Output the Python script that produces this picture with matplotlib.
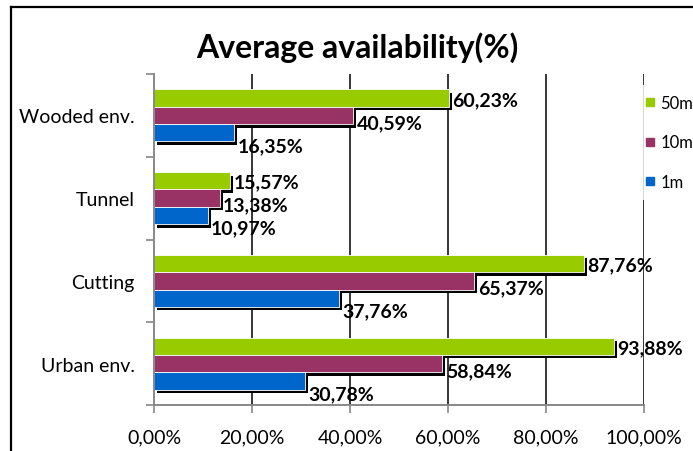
import matplotlib
matplotlib.use("Agg")
import matplotlib.pyplot as plt
import matplotlib.patheffects as pe
from matplotlib.lines import Line2D
import numpy as np

# ========================
# Data
# ========================
categories = ["Urban env.", "Cutting", "Tunnel", "Wooded env."]
series_names = ["50m", "10m", "1m"]
vals_50m = [93.88, 87.76, 15.57, 60.23]
vals_10m = [58.84, 65.37, 13.38, 40.59]
vals_1m = [30.78, 37.76, 10.97, 16.35]
x_ticks = [0, 20, 40, 60, 80, 100]

COLORS = {"50m": "#99CC00", "10m": "#993366", "1m": "#0066CC"}

plt.rcParams["font.family"] = ["Lato", "DejaVu Sans"]

W, H = 693, 452
fig = plt.figure(figsize=(W / 100, H / 100), dpi=100)
ax = fig.add_axes([154 / W, 1 - 406 / H, (644 - 154) / W, (406 - 75) / H])

bar_h = 0.21
ypos = np.arange(len(categories))
series = [("50m", vals_50m, bar_h), ("10m", vals_10m, 0.0), ("1m", vals_1m, -bar_h)]
# label vertical offsets (points) per series, as in the original
label_dy = {"50m": -1, "10m": -5, "1m": -9}

shadow = [pe.SimplePatchShadow(offset=(2.2, -2.5), shadow_rgbFace="black", alpha=1.0),
          pe.Normal()]

handles = []
for name, vals, off in series:
    bars = ax.barh(ypos + off, vals, height=bar_h, color=COLORS[name],
                   edgecolor="white", linewidth=0.6, zorder=3)
    for b in bars:
        b.set_path_effects(shadow)
    for y, v in zip(ypos + off, vals):
        ax.annotate(f"{v:.2f}%".replace(".", ","), xy=(v, y),
                    xytext=(2.5, label_dy[name]), textcoords="offset points",
                    ha="left", va="center", fontsize=14, fontweight="bold",
                    color="black", zorder=5)
    handles.append(Line2D([], [], marker="s", linestyle="none", markersize=6,
                          markerfacecolor=COLORS[name], markeredgecolor=COLORS[name],
                          label=name))

ax.set_xlim(0, 100)
ax.set_ylim(-0.5, len(categories) - 0.5)
ax.set_xticks(x_ticks)
ax.set_xticklabels([f"{t:.2f}%".replace(".", ",") for t in x_ticks], fontsize=14)
ax.set_yticks(ypos)
ax.set_yticklabels(categories, fontsize=14)
ax.set_yticks(np.arange(-0.5, len(categories)), minor=True)

ax.tick_params(axis="y", which="major", length=0, pad=14)
ax.tick_params(axis="y", which="minor", length=6, width=1.2, color="#888888")
ax.tick_params(axis="x", length=6, width=1.2, color="#888888", pad=11)

for t in x_ticks[1:]:
    ax.axvline(t, color="black", lw=1.1, zorder=1)

for s in ["top", "right"]:
    ax.spines[s].set_visible(False)
for s in ["left", "bottom"]:
    ax.spines[s].set_color("#888888")
    ax.spines[s].set_linewidth(1.4)
    ax.spines[s].set_zorder(4)

fig.text(357 / W, 1 - 48 / H, "Average availability(%)", ha="center", va="center",
         fontsize=23, fontweight="bold")

leg = fig.legend(handles=handles, loc="upper left", bbox_to_anchor=(633 / W, 1 - 86 / H),
                 frameon=True, fontsize=12, labelspacing=1.4, handletextpad=0.25,
                 handlelength=0.8, borderaxespad=0, borderpad=0.6)
leg.get_frame().set_facecolor("white")
leg.get_frame().set_edgecolor("white")
leg.get_frame().set_linewidth(0)

# outer chart frame (left and top edges visible)
fig.add_artist(Line2D([11 / W, 11 / W], [0, 1 - 8 / H], transform=fig.transFigure,
                      color="black", lw=1.6))
fig.add_artist(Line2D([11 / W, 1], [1 - 8 / H, 1 - 8 / H], transform=fig.transFigure,
                      color="black", lw=1.6))

fig.savefig("out.png", dpi=100)
